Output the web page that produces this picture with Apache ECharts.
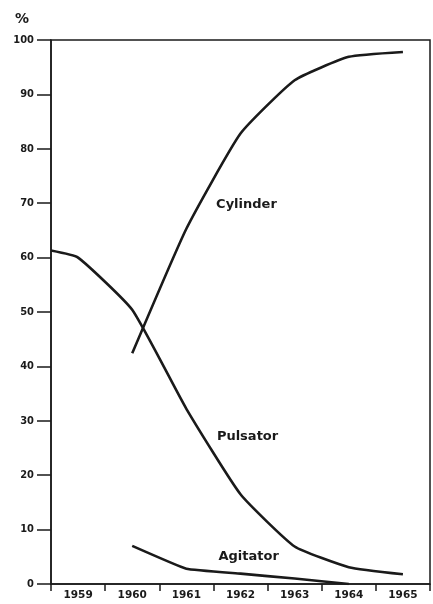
<!DOCTYPE html>
<html>
<head>
<meta charset="utf-8">
<script src="https://cdn.jsdelivr.net/npm/echarts@6/dist/echarts.min.js"></script>
<style>
html,body{margin:0;padding:0;background:#fff;}
#c{width:433px;height:604px;}
</style>
</head>
<body>
<div id="c"></div>
<script>
const years = ['1959','1960','1961','1962','1963','1964','1965'];
const yTicks = [0,10,20,30,40,50,60,70,80,90,100];
const pulsatorX = [1958.5, 1959, 1960, 1961, 1962, 1963, 1964, 1965];
const pulsatorY = [61.3, 60.0, 50.4, 32.2, 16.5, 6.9, 3.1, 1.8];
const cylinderX = [1960, 1961, 1962, 1963, 1964, 1965];
const cylinderY = [42.4, 65.3, 82.8, 92.6, 96.9, 97.8];
const agitatorX = [1960, 1961, 1962, 1963, 1964];
const agitatorY = [7.0, 2.8, 1.9, 1.0, 0];
const labelNames = ['Cylinder', 'Pulsator', 'Agitator'];
const labelX = [1962.11, 1962.13, 1962.15];
const labelY = [69.7, 27.0, 5.0];

const FONT = '"DejaVu Sans Condensed", "DejaVu Sans", sans-serif';
const FONT2 = '"DejaVu Sans", sans-serif';
const INK = '#1a1a1a';

function pairs(xs, ys){ return xs.map((x,i)=>[x, ys[i]]); }
function labelMark(i){
  return {
    symbol: 'rect',
    symbolSize: 2,
    silent: true,
    itemStyle: {color: 'rgba(0,0,0,0)'},
    label: {show: true, position: 'inside', formatter: labelNames[i], color: INK,
      fontFamily: FONT2, fontWeight: 'bold', fontSize: 13},
    data: [{coord: [labelX[i], labelY[i]], value: labelNames[i]}]
  };
}
const lineStyle = {color: INK, width: 2.6};

const chart = echarts.init(document.getElementById('c'));
chart.setOption({
  animation: false,
  backgroundColor: '#fff',
  grid: {left: 51, right: 3, top: 40, bottom: 20, show: true, borderColor: INK, borderWidth: 1.5, backgroundColor: 'transparent'},
  xAxis: [
    {type: 'category', data: years, boundaryGap: true, position: 'bottom',
     axisLine: {show: true, lineStyle: {color: INK, width: 1.5}},
     axisTick: {show: true, inside: false, length: 7, lineStyle: {color: INK, width: 1.5}},
     axisLabel: {color: INK, fontFamily: FONT2, fontWeight: 'bold', fontSize: 10.5, margin: 6},
     splitLine: {show: false}},
    {type: 'value', min: 1958.5, max: 1965.5, show: false, splitLine: {show:false}}
  ],
  yAxis: {type: 'value', min: 0, max: 100, interval: 10,
    name: '%', nameLocation: 'end', nameGap: 14,
    nameTextStyle: {color: INK, fontFamily: FONT2, fontWeight: 'bold', fontSize: 14, align: 'right', padding: [0, 22, 0, 0]},
    axisLine: {show: true, lineStyle: {color: INK, width: 1.5}},
    axisTick: {show: true, inside: false, length: 14, lineStyle: {color: INK, width: 1.5}},
    axisLabel: {color: INK, fontFamily: FONT, fontWeight: 'bold', fontSize: 11, margin: 17,
      formatter: v => yTicks.includes(v) ? String(v) : ''},
    splitLine: {show: false}},
  series: [
    {type: 'line', name: 'Cylinder', xAxisIndex: 1, data: pairs(cylinderX, cylinderY), showSymbol: false, smooth: 0.15, lineStyle, markPoint: labelMark(0)},
    {type: 'line', name: 'Pulsator', xAxisIndex: 1, data: pairs(pulsatorX, pulsatorY), showSymbol: false, smooth: 0.15, lineStyle, markPoint: labelMark(1)},
    {type: 'line', name: 'Agitator', xAxisIndex: 1, data: pairs(agitatorX, agitatorY), showSymbol: false, smooth: 0.1, lineStyle, markPoint: labelMark(2)}
  ]
});
</script>
</body>
</html>
